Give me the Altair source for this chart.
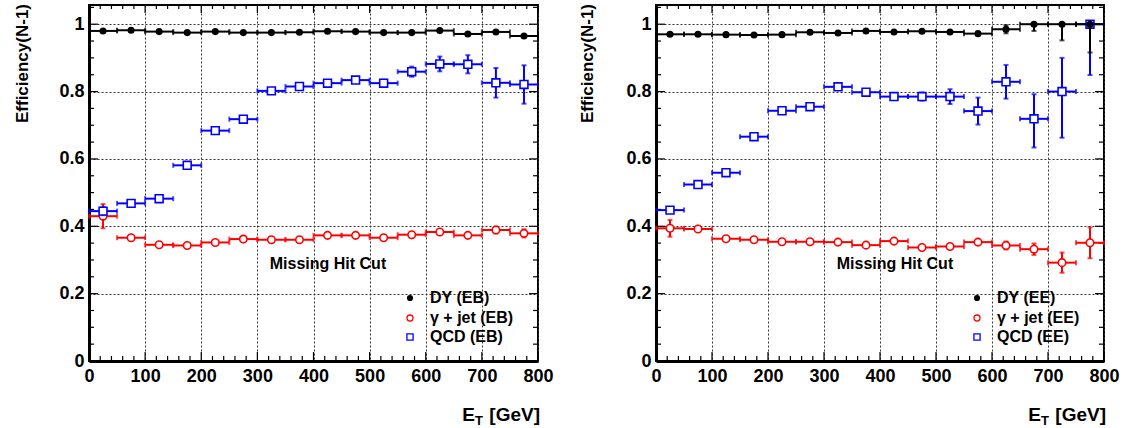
import altair as alt
import pandas as pd

# ---------------- data ----------------
bins = [25, 75, 125, 175, 225, 275, 325, 375, 425, 475, 525, 575, 625, 675, 725, 775]
half_width = 25

# Left panel: barrel (EB)
eb_dy = [0.980, 0.982, 0.978, 0.975, 0.978, 0.975, 0.975, 0.976, 0.979, 0.978, 0.975, 0.975, 0.981, 0.971, 0.977, 0.965]
eb_dy_err = [0.003] * 16
eb_gj = [0.430, 0.366, 0.345, 0.343, 0.352, 0.362, 0.360, 0.360, 0.373, 0.373, 0.366, 0.375, 0.383, 0.373, 0.389, 0.379]
eb_gj_err = [0.036, 0.008, 0.005, 0.005, 0.005, 0.005, 0.005, 0.005, 0.005, 0.005, 0.005, 0.006, 0.007, 0.007, 0.010, 0.012]
eb_qcd = [0.445, 0.468, 0.482, 0.581, 0.684, 0.718, 0.802, 0.815, 0.825, 0.834, 0.825, 0.859, 0.882, 0.881, 0.826, 0.821]
eb_qcd_err = [0.012, 0.006, 0.006, 0.006, 0.006, 0.006, 0.006, 0.006, 0.006, 0.008, 0.010, 0.015, 0.022, 0.027, 0.044, 0.057]

# Right panel: endcap (EE)
ee_dy = [0.970, 0.970, 0.969, 0.968, 0.969, 0.976, 0.974, 0.980, 0.977, 0.979, 0.977, 0.972, 0.985, 1.0, 1.0, 1.0]
ee_dy_lo = [0.003] * 11 + [0.008, 0.012, 0.020, 0.048, 0.084]
ee_dy_hi = [0.003] * 11 + [0.008, 0.012, 0.0, 0.0, 0.0]
ee_gj = [0.394, 0.392, 0.363, 0.360, 0.354, 0.354, 0.353, 0.344, 0.356, 0.337, 0.340, 0.353, 0.343, 0.332, 0.292, 0.351]
ee_gj_err = [0.025, 0.008, 0.005, 0.005, 0.005, 0.005, 0.005, 0.005, 0.006, 0.006, 0.007, 0.008, 0.012, 0.017, 0.030, 0.046]
ee_qcd = [0.448, 0.524, 0.559, 0.666, 0.743, 0.755, 0.814, 0.798, 0.785, 0.785, 0.785, 0.742, 0.829, 0.719, 0.800, 1.0]
ee_qcd_lo = [0.006] * 7 + [0.008, 0.008, 0.012, 0.022, 0.040, 0.050, 0.085, 0.137, 0.151]
ee_qcd_hi = [0.006] * 7 + [0.008, 0.008, 0.012, 0.022, 0.040, 0.050, 0.073, 0.100, 0.0]

x_major = list(range(0, 801, 100))
x_minor = [v for v in range(0, 801, 20) if v % 100 != 0]
y_major = [0, 0.2, 0.4, 0.6, 0.8, 1.0]
y_minor = [round(0.05 * i, 2) for i in range(22) if i % 4 != 0]

FONT = "Liberation Sans"
RED = "#ff0000"
BLUE = "#0000ff"
H = 356
YMAX = 1.057

XS = alt.Scale(domain=[0, 800], nice=False, zero=False)
YS = alt.Scale(domain=[0, YMAX], nice=False, zero=False)
XAX = alt.Axis(values=x_major, title=None, grid=True, ticks=False, labelPadding=6,
               labelFontSize=18, labelFont=FONT, labelFontWeight="bold", labelColor="black",
               gridDash=[2, 2], gridColor="#333", gridWidth=1, domainWidth=3, domainColor="black",
               labelFlush=False, format="d")
YAX = alt.Axis(values=y_major, title=None, grid=True, ticks=False, labelPadding=5,
               labelFontSize=18, labelFont=FONT, labelFontWeight="bold", labelColor="black",
               gridDash=[2, 2], gridColor="#333", gridWidth=1, domainWidth=3, domainColor="black",
               labelFlush=False, format="~g")


def X(f):
    return alt.X(f, scale=XS, axis=XAX)


def Y(f):
    return alt.Y(f, scale=YS, axis=YAX)


def make_df(vals, lo, hi):
    return pd.DataFrame({
        "x": bins,
        "y": vals,
        "xlo": [b - half_width for b in bins],
        "xhi": [b + half_width for b in bins],
        "ylo": [v - e for v, e in zip(vals, lo)],
        "yhi": [v + e for v, e in zip(vals, hi)],
        "elo": lo,
        "ehi": hi,
    })


def series_layers(df, color, shape, size, filled_black):
    lay = []
    lay.append(alt.Chart(df).mark_rule(color=color, strokeWidth=2).encode(
        x=X("xlo:Q"), x2="xhi:Q", y=Y("y:Q")))
    lay.append(alt.Chart(df).mark_rule(color=color, strokeWidth=2).encode(
        x=X("x:Q"), y=Y("ylo:Q"), y2="yhi:Q"))
    for f in ["xlo", "xhi"]:
        lay.append(alt.Chart(df).mark_tick(color=color, orient="vertical", size=5, thickness=2).encode(
            x=X(f + ":Q"), y=Y("y:Q")))
    for f, ef in [("ylo", "elo"), ("yhi", "ehi")]:
        lay.append(alt.Chart(df).transform_filter(alt.datum[ef] > 0.009).mark_tick(
            color=color, orient="horizontal", size=5, thickness=2).encode(
            x=X("x:Q"), y=Y(f + ":Q")))
    if filled_black:
        pm = alt.Chart(df).mark_point(shape=shape, filled=True, color=color, size=size, opacity=1)
    else:
        pm = alt.Chart(df).mark_point(shape=shape, filled=True, fill="white", stroke=color,
                                      strokeWidth=1.6, size=size, opacity=1)
    lay.append(pm.encode(x=X("x:Q"), y=Y("y:Q")))
    return lay


def one(text):
    return pd.DataFrame({"t": [text]})


def panel(dy, gj, qcd, region, W, ytitle_x):
    layers = []

    # inward ROOT style ticks
    xmaj = pd.DataFrame({"v": x_major})
    xmin = pd.DataFrame({"v": x_minor})
    ymaj = pd.DataFrame({"v": y_major})
    ymin = pd.DataFrame({"v": y_minor})
    for d, ln in [(xmaj, 9), (xmin, 5)]:
        layers.append(alt.Chart(d).mark_rule(color="black", strokeWidth=1.2).encode(
            x=X("v:Q"), y=alt.value(H), y2=alt.value(H - ln)))
        layers.append(alt.Chart(d).mark_rule(color="black", strokeWidth=1.2).encode(
            x=X("v:Q"), y=alt.value(0), y2=alt.value(ln - 1)))
    for d, ln in [(ymaj, 9), (ymin, 5)]:
        layers.append(alt.Chart(d).mark_rule(color="black", strokeWidth=1.2).encode(
            y=Y("v:Q"), x=alt.value(0), x2=alt.value(ln)))
        layers.append(alt.Chart(d).mark_rule(color="black", strokeWidth=1.2).encode(
            y=Y("v:Q"), x=alt.value(W), x2=alt.value(W - ln)))

    layers += series_layers(gj, RED, "circle", 56, False)
    layers += series_layers(qcd, BLUE, "square", 62, False)
    layers += series_layers(dy, "black", "circle", 50, True)

    # legend
    rows = [("DY (" + region + ")", 293), ("\u03b3 + jet (" + region + ")", 313), ("QCD (" + region + ")", 332)]
    layers.append(alt.Chart(one("a")).mark_point(shape="circle", filled=True, color="black", size=38, opacity=1)
                  .encode(x=alt.value(321), y=alt.value(rows[0][1])))
    layers.append(alt.Chart(one("b")).mark_point(shape="circle", filled=True, fill="white", stroke=RED,
                                                 strokeWidth=1.3, size=36, opacity=1)
                  .encode(x=alt.value(321), y=alt.value(rows[1][1])))
    layers.append(alt.Chart(one("c")).mark_point(shape="square", filled=True, fill="white", stroke=BLUE,
                                                 strokeWidth=1.3, size=38, opacity=1)
                  .encode(x=alt.value(321), y=alt.value(rows[2][1])))
    for lab, yy in rows:
        layers.append(alt.Chart(one(lab)).mark_text(font=FONT, fontWeight="bold", fontSize=16, align="left",
                                                    baseline="middle", color="black")
                      .encode(text="t:N", x=alt.value(341), y=alt.value(yy)))

    # annotation
    layers.append(alt.Chart(one("Missing Hit Cut")).mark_text(font=FONT, fontWeight="bold", fontSize=16,
                                                              align="center", baseline="middle", color="black")
                  .encode(text="t:N", x=alt.value(239), y=alt.value(259)))

    # y title
    layers.append(alt.Chart(one("Efficiency(N-1)")).mark_text(font=FONT, fontWeight="bold", fontSize=17,
                                                              angle=270, align="right", baseline="middle",
                                                              color="black")
                  .encode(text="t:N", x=alt.value(ytitle_x), y=alt.value(-1)))
    # x title  E_T [GeV]
    layers.append(alt.Chart(one("[GeV]")).mark_text(font=FONT, fontWeight="bold", fontSize=19, align="right",
                                                    baseline="alphabetic", color="black")
                  .encode(text="t:N", x=alt.value(W + 2), y=alt.value(416)))
    layers.append(alt.Chart(one("T")).mark_text(font=FONT, fontWeight="bold", fontSize=13, align="right",
                                                baseline="alphabetic", color="black")
                  .encode(text="t:N", x=alt.value(W - 55), y=alt.value(420)))
    layers.append(alt.Chart(one("E")).mark_text(font=FONT, fontWeight="bold", fontSize=19, align="right",
                                                baseline="alphabetic", color="black")
                  .encode(text="t:N", x=alt.value(W - 63), y=alt.value(416)))

    return alt.layer(*layers).properties(width=W, height=H)


left = panel(make_df(eb_dy, eb_dy_err, eb_dy_err), make_df(eb_gj, eb_gj_err, eb_gj_err),
             make_df(eb_qcd, eb_qcd_err, eb_qcd_err), "EB", 449, -66)
right = panel(make_df(ee_dy, ee_dy_lo, ee_dy_hi), make_df(ee_gj, ee_gj_err, ee_gj_err),
              make_df(ee_qcd, ee_qcd_lo, ee_qcd_hi), "EE", 448, -68)

chart = alt.hconcat(left, right, spacing=23).properties(
    padding={"left": 13, "top": 3, "right": 0, "bottom": 0},
    background="white",
).configure_view(stroke="black", strokeWidth=2)

chart.save("out.html", embed_options={"renderer": "svg", "actions": False})
